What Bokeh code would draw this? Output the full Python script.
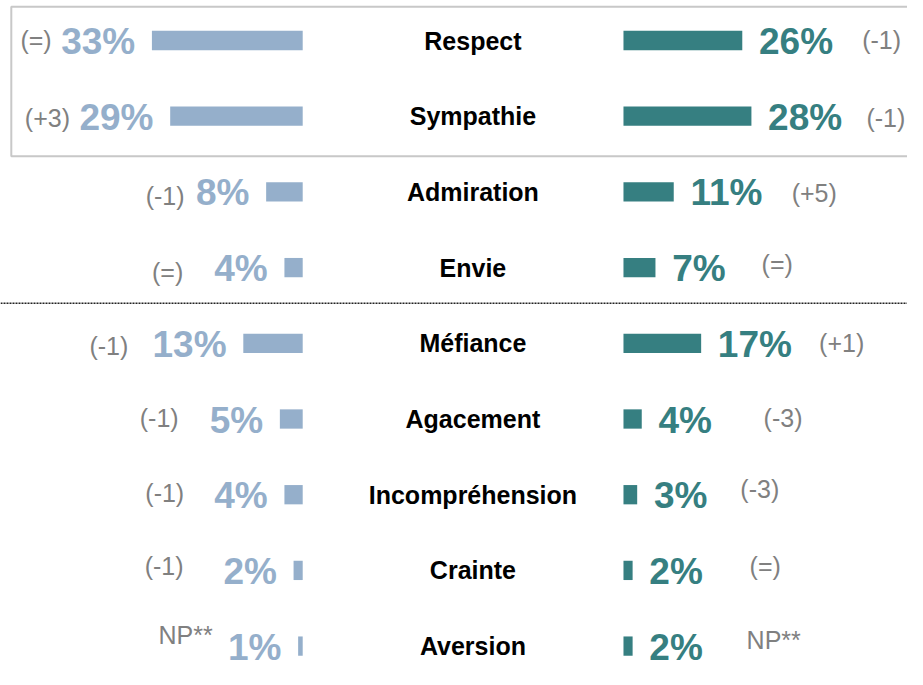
from bokeh.plotting import figure
from bokeh.models import Range1d, Span, ColumnDataSource
from bokeh.core.properties import value
from bokeh.embed import file_html
from bokeh.resources import INLINE

# ---------------- data ----------------
categories = ["Respect", "Sympathie", "Admiration", "Envie", "Méfiance",
              "Agacement", "Incompréhension", "Crainte", "Aversion"]
left_values = [33, 29, 8, 4, 13, 5, 4, 2, 1]
right_values = [26, 28, 11, 7, 17, 4, 3, 2, 2]
left_changes = ["(=)", "(+3)", "(-1)", "(=)", "(-1)", "(-1)", "(-1)", "(-1)", "NP**"]
right_changes = ["(-1)", "(-1)", "(+5)", "(=)", "(+1)", "(-3)", "(-3)", "(=)", "NP**"]

# ---------------- layout / style ----------------
W, H = 907, 669
SX = 907 / 923            # horizontal squeeze to fit the page
PX_PER_PCT = 4.65 * SX    # pixels per percentage point
ROW_PX = 75.7             # vertical pixels per row
SY = ROW_PX / 78.5
ROW0_PX = 40              # centre of first row from top of frame
HALF_GAP = 35.1           # half of the central gap, in percentage points
X_CENTER_PX = 470.75 * SX
BAR_H_PX = 20 * SY
LEFT_COLOR = "#95AFCB"
RIGHT_COLOR = "#367F81"
GREY = "#808080"
FONT = value("Liberation Sans")
VAL_FS, CAT_FS, CHG_FS = 37, 25, 25

# label nudges (pixels) for the change annotations
left_change_gap = [102, 102, 83, 103, 117, 103, 102, 112, 87]
right_change_gap = [122, 117, 120, 108, 120, 124, 105, 119, 116]
left_change_dy = [2, 3.5, 6, 6.5, 5, 1, 0, -3, -9.5]
right_change_dy = [2, 3.5, 3.5, -2, 2, 1.5, -3.5, -2, -4]

n = len(categories)
rows = list(range(n))

x_start = -X_CENTER_PX / PX_PER_PCT
x_end = (W - X_CENTER_PX) / PX_PER_PCT
y_top = -ROW0_PX / ROW_PX
y_bottom = (H - ROW0_PX) / ROW_PX

p = figure(width=W, height=H, x_range=Range1d(x_start, x_end),
           y_range=Range1d(y_bottom, y_top), output_backend="svg",
           toolbar_location=None, x_axis_location=None, y_axis_location=None,
           min_border=0, background_fill_color="white", border_fill_color="white")
p.grid.visible = False
p.outline_line_color = None


def py(px):
    return px / ROW_PX


def px(pxv):
    return pxv / PX_PER_PCT


# box around first two rows
p.quad(left=[x_start + px(10.8)], right=[x_end + 20],
       top=[0 - py(35 * SY)], bottom=[1 + py(41.5 * SY)],
       fill_alpha=0, line_color="#C8C8C8", line_width=2)

# dotted separator between positive and negative feelings
p.add_layout(Span(location=3 + py(37 * SY), dimension="width", line_color="#222222",
                  line_width=1.5, line_dash="2 1"))

# bars
left_src = ColumnDataSource(dict(
    y=rows,
    left=[-HALF_GAP - v for v in left_values],
    right=[-HALF_GAP] * n,
))
right_src = ColumnDataSource(dict(
    y=rows,
    left=[HALF_GAP] * n,
    right=[HALF_GAP + v for v in right_values],
))
p.hbar(y="y", left="left", right="right", height=py(BAR_H_PX), source=left_src,
       fill_color=LEFT_COLOR, line_color=None)
p.hbar(y="y", left="left", right="right", height=py(BAR_H_PX), source=right_src,
       fill_color=RIGHT_COLOR, line_color=None)

common = dict(text_baseline="middle", text_font=FONT, text_line_height=1.0)

# category labels
p.text(x=[px(10 * SX)] * n, y=rows, text=categories, text_align="center",
       text_font_style="bold", text_font_size=f"{CAT_FS}px", text_color="black",
       **common)

# value labels
p.text(x=[-HALF_GAP - v - px(17 * SX) for v in left_values],
       y=[i + py(1) for i in rows],
       text=[f"{v}%" for v in left_values], text_align="right",
       text_font_style="bold", text_font_size=f"{VAL_FS}px", text_color=LEFT_COLOR,
       **common)
p.text(x=[HALF_GAP + v + px(17 * SX) for v in right_values],
       y=[i + py(1) for i in rows],
       text=[f"{v}%" for v in right_values], text_align="left",
       text_font_style="bold", text_font_size=f"{VAL_FS}px", text_color=RIGHT_COLOR,
       **common)

# change labels
p.text(x=[-HALF_GAP - v - px(g * SX) for v, g in zip(left_values, left_change_gap)],
       y=[i + py(d * SY - 2) for i, d in zip(rows, left_change_dy)],
       text=left_changes, text_align="right",
       text_font_size=f"{CHG_FS}px", text_color=GREY, **common)
p.text(x=[HALF_GAP + v + px(g * SX) for v, g in zip(right_values, right_change_gap)],
       y=[i + py(d * SY - 2) for i, d in zip(rows, right_change_dy)],
       text=right_changes, text_align="left",
       text_font_size=f"{CHG_FS}px", text_color=GREY, **common)

open("out.html", "w").write(file_html(p, INLINE))
